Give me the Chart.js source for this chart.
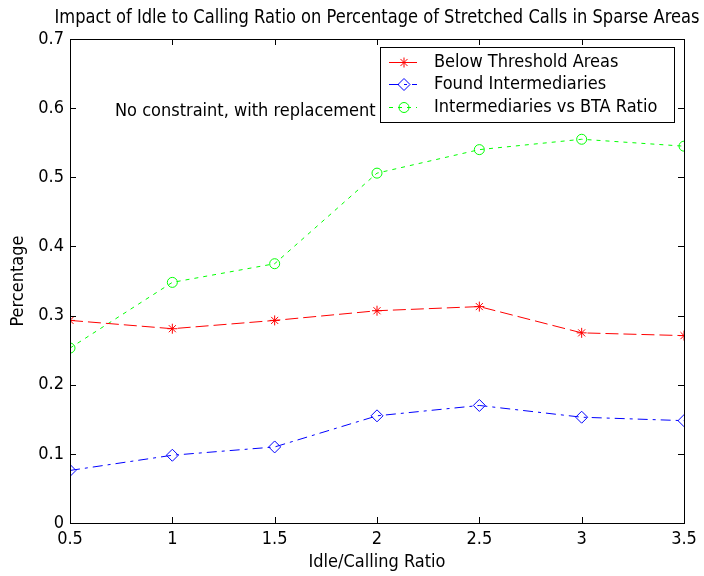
<!DOCTYPE html>
<html>
<head>
<meta charset="utf-8">
<script src="https://cdn.jsdelivr.net/npm/chart.js@4/dist/chart.umd.min.js"></script>
<style>
  html, body { margin: 0; padding: 0; background: #fff; }
  #wrap { width: 704px; height: 576px; }
</style>
</head>
<body>
<div id="wrap"><canvas id="chart" width="704" height="576"></canvas></div>
<script>
// data
const ratios = [0.5, 1, 1.5, 2, 2.5, 3, 3.5];
const belowThreshold = [0.293, 0.281, 0.293, 0.307, 0.313, 0.275, 0.271];
const foundIntermediaries = [0.076, 0.098, 0.110, 0.155, 0.170, 0.153, 0.148];
const intermediariesVsBta = [0.253, 0.348, 0.375, 0.506, 0.540, 0.555, 0.545];

const xTicks = [0.5, 1, 1.5, 2, 2.5, 3, 3.5];
const yTicks = [0, 0.1, 0.2, 0.3, 0.4, 0.5, 0.6, 0.7];

const TITLE = 'Impact of Idle to Calling Ratio on Percentage of Stretched Calls in Sparse Areas';
const NOTE = 'No constraint, with replacement';

const FONT = '"DejaVu Sans Condensed", "Liberation Sans", sans-serif';

function points(values) {
    return ratios.map((x, i) => ({ x: x, y: values[i] }));
}

// box round the axes, inward ticks on all four sides (matlab look), title centred over the axes
const framePlugin = {
    id: 'frame',
    afterDraw(chart) {
        const ctx = chart.ctx;
        const a = chart.chartArea;
        const xs = chart.scales.x, ys = chart.scales.y;
        const len = 6;
        ctx.save();
        ctx.strokeStyle = '#000';
        ctx.lineWidth = 1;
        ctx.strokeRect(a.left + 0.5, a.top + 0.5, a.right - a.left, a.bottom - a.top);
        ctx.beginPath();
        xTicks.forEach(v => {
            const px = Math.round(xs.getPixelForValue(v)) + 0.5;
            ctx.moveTo(px, a.bottom); ctx.lineTo(px, a.bottom - len);
            ctx.moveTo(px, a.top); ctx.lineTo(px, a.top + len);
        });
        yTicks.forEach(v => {
            const py = Math.round(ys.getPixelForValue(v)) + 0.5;
            ctx.moveTo(a.left, py); ctx.lineTo(a.left + len, py);
            ctx.moveTo(a.right, py); ctx.lineTo(a.right - len, py);
        });
        ctx.stroke();

        // narrow title like the original, squeezed to the width it takes there
        ctx.fillStyle = '#000';
        ctx.font = '20px ' + FONT;
        ctx.textAlign = 'center';
        ctx.textBaseline = 'alphabetic';
        ctx.fillText(TITLE, (a.left + a.right) / 2, 23, 645);
        ctx.restore();
    }
};

// legend box in the top right and the note beside it
const legendPlugin = {
    id: 'boxLegend',
    afterDraw(chart) {
        const ctx = chart.ctx;
        const box = { x: 380, y: 47, w: 294, h: 75 };
        const rows = [62, 84, 107];
        ctx.save();
        ctx.fillStyle = '#fff';
        ctx.fillRect(box.x, box.y, box.w, box.h);
        ctx.strokeStyle = '#000';
        ctx.lineWidth = 1;
        ctx.strokeRect(box.x + 0.5, box.y + 0.5, box.w, box.h);
        chart.data.datasets.forEach((ds, i) => {
            const y = rows[i] + 0.5;
            ctx.strokeStyle = ds.borderColor;
            ctx.lineWidth = 1;
            ctx.setLineDash(ds.borderDash || []);
            ctx.beginPath();
            ctx.moveTo(389, y); ctx.lineTo(417, y);
            ctx.stroke();
            ctx.setLineDash([]);
            ctx.fillStyle = 'rgba(0,0,0,0)';
            Chart.helpers.drawPoint(ctx, {
                pointStyle: ds.pointStyle,
                radius: ds.pointRadius,
                borderWidth: 1
            }, 404, y);
            ctx.fillStyle = '#000';
            ctx.font = '18px ' + FONT;
            ctx.textBaseline = 'middle';
            ctx.fillText(ds.label, 434, y);
        });
        ctx.fillStyle = '#000';
        ctx.font = '18px ' + FONT;
        ctx.textBaseline = 'alphabetic';
        ctx.fillText(NOTE, 115, 116);
        ctx.restore();
    }
};

function lineSet(label, values, color, dash, style, radius) {
    return {
        label: label,
        data: points(values),
        borderColor: color,
        backgroundColor: 'rgba(0,0,0,0)',
        pointBorderColor: color,
        pointBackgroundColor: 'rgba(0,0,0,0)',
        borderWidth: 1,
        borderDash: dash,
        pointStyle: style,
        pointRadius: radius,
        pointBorderWidth: 1,
        tension: 0
    };
}

new Chart(document.getElementById('chart').getContext('2d'), {
    type: 'line',
    data: {
        datasets: [
            lineSet('Below Threshold Areas', belowThreshold, '#ff0000', [13, 5], 'star', 5),
            lineSet('Found Intermediaries', foundIntermediaries, '#0000ff', [10, 5, 3, 5], 'rectRot', 6),
            lineSet('Intermediaries vs BTA Ratio', intermediariesVsBta, '#00ff00', [4, 5], 'circle', 5)
        ]
    },
    options: {
        responsive: false,
        animation: false,
        layout: { padding: { top: 39, right: 20 } },
        scales: {
            x: {
                type: 'linear',
                min: 0.5,
                max: 3.5,
                afterBuildTicks: (s) => { s.ticks = xTicks.map(v => ({ value: v })); },
                afterFit: (s) => { s.height = 53; },
                grid: { display: false, drawTicks: false },
                border: { display: true, color: '#000' },
                ticks: { color: '#000', font: { family: FONT, size: 18 }, padding: 6, maxRotation: 0, callback: (v) => String(v) },
                title: { display: true, text: 'Idle/Calling Ratio', color: '#000', font: { family: FONT, size: 18 }, padding: { top: 0, bottom: 3 } }
            },
            y: {
                min: 0,
                max: 0.7,
                afterBuildTicks: (s) => { s.ticks = yTicks.map(v => ({ value: v })); },
                afterFit: (s) => { s.width = 70; },
                grid: { display: false, drawTicks: false },
                border: { display: true, color: '#000' },
                ticks: { color: '#000', font: { family: FONT, size: 18 }, padding: 6, callback: (v) => String(v) },
                title: { display: true, text: 'Percentage', color: '#000', font: { family: FONT, size: 18 }, padding: { top: 8, bottom: 0 } }
            }
        },
        plugins: {
            legend: { display: false },
            tooltip: { enabled: false },
            title: { display: false }
        }
    },
    plugins: [framePlugin, legendPlugin]
});
</script>
</body>
</html>
